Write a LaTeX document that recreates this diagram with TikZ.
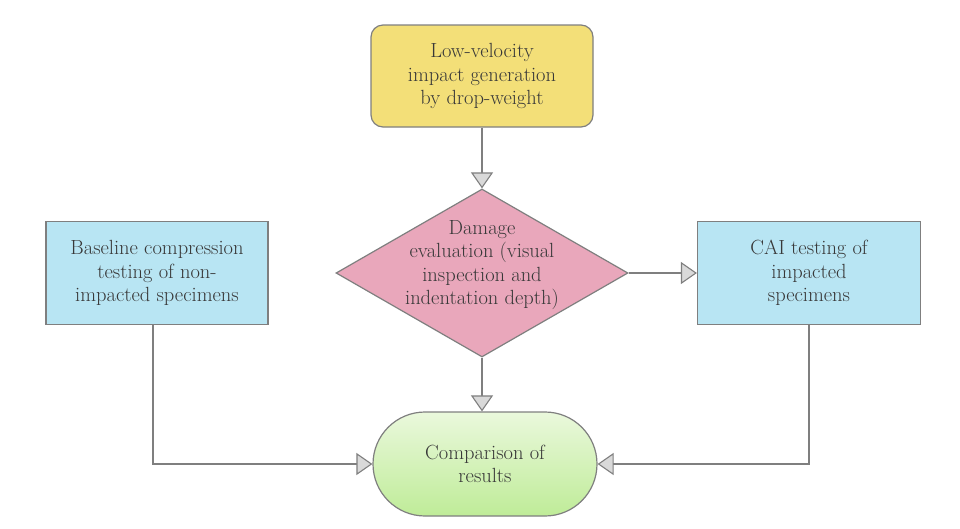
\documentclass[tikz,border=0pt]{standalone}
\usetikzlibrary{arrows.meta,shapes.geometric,shapes.misc}
\definecolor{edgegray}{HTML}{7F7F7F}
\definecolor{tipgray}{HTML}{D9D9D9}
\definecolor{txtgray}{HTML}{383838}
\definecolor{yellowfill}{HTML}{F3DF78}
\definecolor{pinkfill}{HTML}{E9A7BB}
\definecolor{bluefill}{HTML}{B8E5F3}
\definecolor{greentop}{HTML}{EAF8DC}
\definecolor{greenbot}{HTML}{BFEC98}
\tikzset{
  box/.style={draw=edgegray, line width=1.2pt, text=txtgray, align=center,
    font=\fontsize{20.5}{23.5}\selectfont, inner sep=0pt},
  conn/.style={draw=edgegray, line width=1.2pt,
    -{Triangle[width=22pt,length=16pt,fill=tipgray,line width=1.1pt]}},
  plain/.style={draw=edgegray, line width=1.2pt}
}
\begin{document}
\begin{tikzpicture}[x=1pt,y=-1pt]
\useasboundingbox (0,0) rectangle (960,528);
\node[box, fill=yellowfill, rounded corners=12pt, minimum width=222pt, minimum height=102pt] (impact) at (482,76)
  {Low-velocity\\impact generation\\by drop-weight};
\node[box, diamond, fill=pinkfill, minimum width=292pt, minimum height=168pt] (dmg) at (482,273) {};
\node[box, draw=none] (dmgtxt) at (482,265)
  {Damage\\evaluation (visual\\inspection and\\indentation depth)};
\node[box, fill=bluefill, minimum width=222pt, minimum height=103pt] (base) at (157,273)
  {Baseline compression\\testing of non-\\impacted specimens};
\node[box, fill=bluefill, minimum width=223pt, minimum height=103pt] (cai) at (809,273)
  {CAI testing of\\impacted\\specimens};
\node[box, rounded rectangle, top color=greentop, bottom color=greenbot, minimum width=224pt, minimum height=104pt] (comp) at (485,464)
  {Comparison of\\results};
\draw[conn] (impact.south) -- (dmg.north);
\draw[conn] (dmg.east) -- (cai.west);
\draw[conn] (dmg.south) -- (dmg.south |- comp.north);
\draw[conn] ([xshift=-4pt]base.south) |- (comp.west);
\draw[conn] (cai.south) |- (comp.east);
\end{tikzpicture}
\end{document}
